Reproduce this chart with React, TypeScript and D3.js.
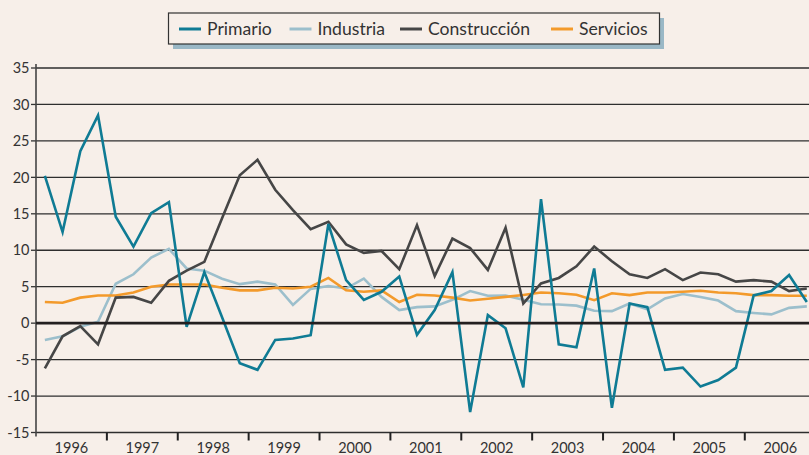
import React from "react";
import * as d3 from "d3";

const years = ["1996","1997","1998","1999","2000","2001","2002","2003","2004","2005","2006"];
const yTicks = [35,30,25,20,15,10,5,0,-5,-10,-15];

const primario = [20.2,12.5,23.6,28.5,14.6,10.5,15.1,16.6,-0.5,7.0,0.8,-5.5,-6.4,-2.3,-2.1,-1.65,13.6,5.9,3.2,4.3,6.4,-1.6,1.8,7.0,-12.2,1.1,-0.7,-8.8,17.0,-2.9,-3.3,7.5,-11.6,2.7,2.2,-6.4,-6.1,-8.7,-7.8,-6.1,3.8,4.4,6.6,2.9];
const industria = [-2.3,-1.8,-0.5,0.2,5.4,6.7,9.0,10.2,7.5,7.2,6.1,5.35,5.7,5.3,2.5,4.7,5.1,4.75,6.1,3.6,1.8,2.2,2.3,3.2,4.4,3.75,3.8,3.2,2.6,2.55,2.4,1.7,1.65,2.7,1.9,3.4,4.0,3.6,3.1,1.65,1.4,1.2,2.1,2.3];
const construccion = [-6.2,-1.8,-0.4,-2.9,3.5,3.6,2.8,5.8,7.2,8.4,14.4,20.3,22.4,18.3,15.5,12.9,13.9,10.8,9.65,9.9,7.4,13.45,6.45,11.6,10.3,7.3,13.1,2.7,5.45,6.2,7.8,10.5,8.5,6.7,6.2,7.4,5.9,6.95,6.7,5.7,5.9,5.7,4.4,4.75];
const servicios = [2.9,2.8,3.5,3.8,3.8,4.2,5.0,5.3,5.3,5.3,4.85,4.5,4.5,4.85,4.75,5.0,6.2,4.5,4.3,4.5,2.9,3.9,3.8,3.5,3.1,3.35,3.6,3.85,4.2,4.1,3.9,3.15,4.1,3.85,4.2,4.2,4.3,4.45,4.2,4.1,3.85,3.85,3.75,3.75];

const seriesNames = ["Primario","Industria","Construcción","Servicios"];
const seriesColors = ["#0f7b94","#9cbfcc","#464646","#f39a2b"];
const seriesData = [primario, industria, construccion, servicios];
const drawOrder = [1,3,2,0];

const W = 809, H = 455;
const left = 36;
const font = "Lato, 'Open Sans', sans-serif";

export default function App() {
  const nQ = primario.length;
  const x = d3.scaleLinear().domain([0, nQ]).range([left, left + nQ * 17.72]);
  const y = d3.scaleLinear().domain([-15, 35]).range([432.5, 68]);
  const line = d3.line<number>().x((_, i) => x(i + 0.5)).y(d => y(d));

  const legendX = [179, 289.5, 400, 551];

  return (
    <svg width={W} height={H} style={{ position: "absolute", left: 0, top: 0, background: "#f7efe9" }}>
      <rect x={0} y={0} width={W} height={H} fill="#f7efe9" />
      {yTicks.filter(t => t !== -15 && t !== 0).map(t => (
        <line key={t} x1={left} x2={W} y1={y(t)} y2={y(t)} stroke="#2e2e2e" strokeWidth={1.3} />
      ))}
      {yTicks.map(t => (
        <g key={"yt" + t}>
          <line x1={31} x2={left} y1={y(t)} y2={y(t)} stroke="#333" strokeWidth={1.3} />
          <text x={29.5} y={y(t)} dy="0.36em" textAnchor="end" fontFamily={font} fontSize={14.5} fill="#333">{t}</text>
        </g>
      ))}
      <line x1={left} x2={W} y1={y(-15)} y2={y(-15)} stroke="#2e2e2e" strokeWidth={1.5} />
      {years.map((yr, k) => (
        <g key={yr}>
          {k > 0 && <line x1={x(4 * k)} x2={x(4 * k)} y1={y(-15)} y2={y(-15) + 8} stroke="#222" strokeWidth={2} />}
          <text x={x(4 * k + 2)} y={453} textAnchor="middle" fontFamily={font} fontSize={14.5} fill="#333">{yr}</text>
        </g>
      ))}
      <line x1={left} x2={left} y1={64} y2={y(-15) + 4} stroke="#444" strokeWidth={1.6} />
      {drawOrder.map(si => (
        <path key={seriesNames[si]} d={line(seriesData[si]) || ""} fill="none" stroke={seriesColors[si]} strokeWidth={2.6} strokeLinejoin="miter" />
      ))}
      <line x1={left} x2={W} y1={y(0)} y2={y(0)} stroke="#231f20" strokeWidth={2.8} />
      <rect x={173} y={18} width={491} height={31} fill="#9ab8c6" />
      <rect x={168.5} y={13} width={491} height={31} fill="#f7efe9" stroke="#333" strokeWidth={1.2} />
      {seriesNames.map((n, i) => (
        <g key={"lg" + n}>
          <line x1={legendX[i]} x2={legendX[i] + 22} y1={29} y2={29} stroke={seriesColors[i]} strokeWidth={3} />
          <text x={legendX[i] + 28} y={29} dy="0.36em" fontFamily={font} fontSize={17.6} fill="#333">{n}</text>
        </g>
      ))}
    </svg>
  );
}
